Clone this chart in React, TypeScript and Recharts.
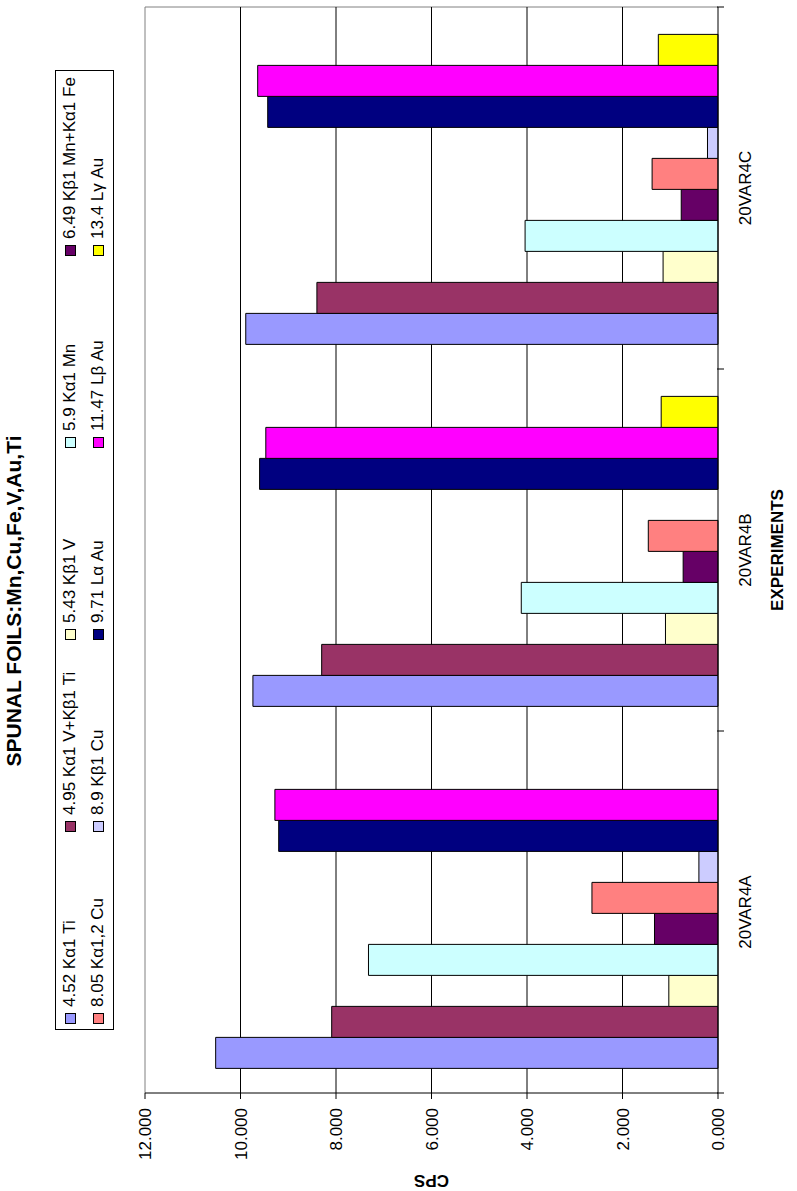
import { BarChart, Bar, XAxis, YAxis, CartesianGrid, Legend } from "recharts";

const experiments = ["20VAR4A", "20VAR4B", "20VAR4C"];

const seriesNames = [
  "4.52 Kα1 Ti",
  "4.95 Kα1 V+Kβ1 Ti",
  "5.43 Kβ1 V",
  "5.9 Kα1 Mn",
  "6.49 Kβ1 Mn+Kα1 Fe",
  "8.05 Kα1,2 Cu",
  "8.9 Kβ1 Cu",
  "9.71 Lα Au",
  "11.47 Lβ Au",
  "13.4 Lγ Au",
];

const COLORS = ["#9999FF", "#993366", "#FFFFCC", "#CCFFFF", "#660066", "#FF8080", "#CCCCFF", "#000080", "#FF00FF", "#FFFF00"];

// cps per experiment (4A, 4B, 4C)
const ti452 = [10.52, 9.74, 9.89];
const v495 = [8.09, 8.3, 8.4];
const v543 = [1.03, 1.1, 1.15];
const mn59 = [7.32, 4.12, 4.04];
const mn649 = [1.33, 0.73, 0.77];
const cu805 = [2.64, 1.46, 1.38];
const cu89 = [0.4, 0, 0.22];
const au971 = [9.2, 9.6, 9.43];
const au1147 = [9.28, 9.47, 9.64];
const au134 = [0, 1.19, 1.25];

const yTicks = [0, 2, 4, 6, 8, 10, 12];

const seriesValues = [ti452, v495, v543, mn59, mn649, cu805, cu89, au971, au1147, au134];
const keys = seriesNames.map((_, i) => "s" + i);

const data = experiments.map((name, c) => {
  const row: Record<string, any> = { name };
  seriesValues.forEach((vals, i) => (row[keys[i]] = vals[c]));
  return row;
});

const FONT = '"Liberation Sans", Arial, sans-serif';

// category label + excel style ticks between categories
const CatTick = (props: any) => {
  const { x, y, payload, width, visibleTicksCount, index } = props;
  const band = width / visibleTicksCount;
  const top = y - 9; // axis line position
  const left = x - band / 2;
  return (
    <g>
      <line x1={left} x2={left} y1={top} y2={top + 7} stroke="#000" />
      {index === visibleTicksCount - 1 && <line x1={left + band} x2={left + band} y1={top} y2={top + 7} stroke="#000" />}
      <text x={x} y={top + 34} textAnchor="middle" fontSize={17} fontFamily={FONT} fill="#000">
        {payload.value}
      </text>
    </g>
  );
};

const LegendBox = () => (
  <div
    style={{
      display: "grid",
      gridTemplateColumns: "repeat(5, 192px)",
      gridAutoRows: "28px",
      paddingLeft: 5,
      fontFamily: FONT,
      fontSize: 17,
      color: "#000",
    }}
  >
    {seriesNames.map((n, i) => (
      <div key={n} style={{ display: "flex", alignItems: "center", whiteSpace: "nowrap" }}>
        <span
          style={{
            width: 11,
            height: 11,
            boxSizing: "border-box",
            border: "1px solid #000",
            background: COLORS[i],
            marginRight: 6,
            flex: "none",
          }}
        />
        {n}
      </div>
    ))}
  </div>
);

export default function App() {
  return (
    <div style={{ position: "absolute", left: 0, top: 0, width: 797, height: 1191, overflow: "hidden", background: "#fff" }}>
      <div
        style={{
          position: "absolute",
          left: 0,
          top: 1191,
          width: 1191,
          height: 797,
          transform: "rotate(-90deg)",
          transformOrigin: "0 0",
        }}
      >
        <div
          style={{
            position: "absolute",
            left: 0,
            width: 1180,
            top: 2,
            textAlign: "center",
            fontFamily: FONT,
            fontWeight: "bold",
            fontSize: 21,
            color: "#000",
          }}
        >
          SPUNAL FOILS:Mn,Cu,Fe,V,Au,Ti
        </div>
        <BarChart
          width={1191}
          height={797}
          data={data}
          margin={{ top: 145, right: 7, bottom: 0, left: 0 }}
          barCategoryGap="6.8%"
          barGap={0}
        >
          {/* plot area border (grey, top and right) */}
          <CartesianGrid
            stroke="#808080"
            horizontalCoordinatesGenerator={({ offset }: any) => [offset.top]}
            verticalCoordinatesGenerator={({ offset }: any) => [offset.left + offset.width]}
          />
          <CartesianGrid horizontal vertical={false} stroke="#000" horizontalValues={[2, 4, 6, 8, 10]} />
          <XAxis
            dataKey="name"
            height={79}
            interval={0}
            axisLine={{ stroke: "#000" }}
            tickLine={false}
            tick={<CatTick />}
            label={(p: any) => (
              <text
                x={p.viewBox.x + p.viewBox.width / 2}
                y={783}
                textAnchor="middle"
                fontSize={17}
                fontWeight="bold"
                fontFamily={FONT}
                fill="#000"
              >
                EXPERIMENTS
              </text>
            )}
          />
          <YAxis
            domain={[0, 12]}
            ticks={yTicks}
            width={98}
            tickSize={6}
            tickMargin={9}
            axisLine={{ stroke: "#000" }}
            tickLine={{ stroke: "#000" }}
            tick={{ fontSize: 17, fontFamily: FONT, fill: "#000" }}
            tickFormatter={(v: number) => v.toFixed(3)}
            label={(p: any) => (
              <text
                x={11}
                y={p.viewBox.y + p.viewBox.height / 2}
                transform={`rotate(-90 11 ${p.viewBox.y + p.viewBox.height / 2})`}
                textAnchor="middle"
                dominantBaseline="central"
                fontSize={17}
                fontWeight="bold"
                fontFamily={FONT}
                fill="#000"
              >
                CPS
              </text>
            )}
          />
          <Legend
            layout="horizontal"
            verticalAlign="middle"
            align="center"
            wrapperStyle={{
              position: "absolute",
              left: 161,
              top: 55,
              width: 960,
              height: 59,
              boxSizing: "border-box",
              border: "1px solid #000",
              background: "#fff",
            }}
            content={() => <LegendBox />}
          />
          {keys.map((k, i) => (
            <Bar key={k} dataKey={k} name={seriesNames[i]} fill={COLORS[i]} stroke="#000" strokeWidth={1} isAnimationActive={false} />
          ))}
        </BarChart>
      </div>
    </div>
  );
}
